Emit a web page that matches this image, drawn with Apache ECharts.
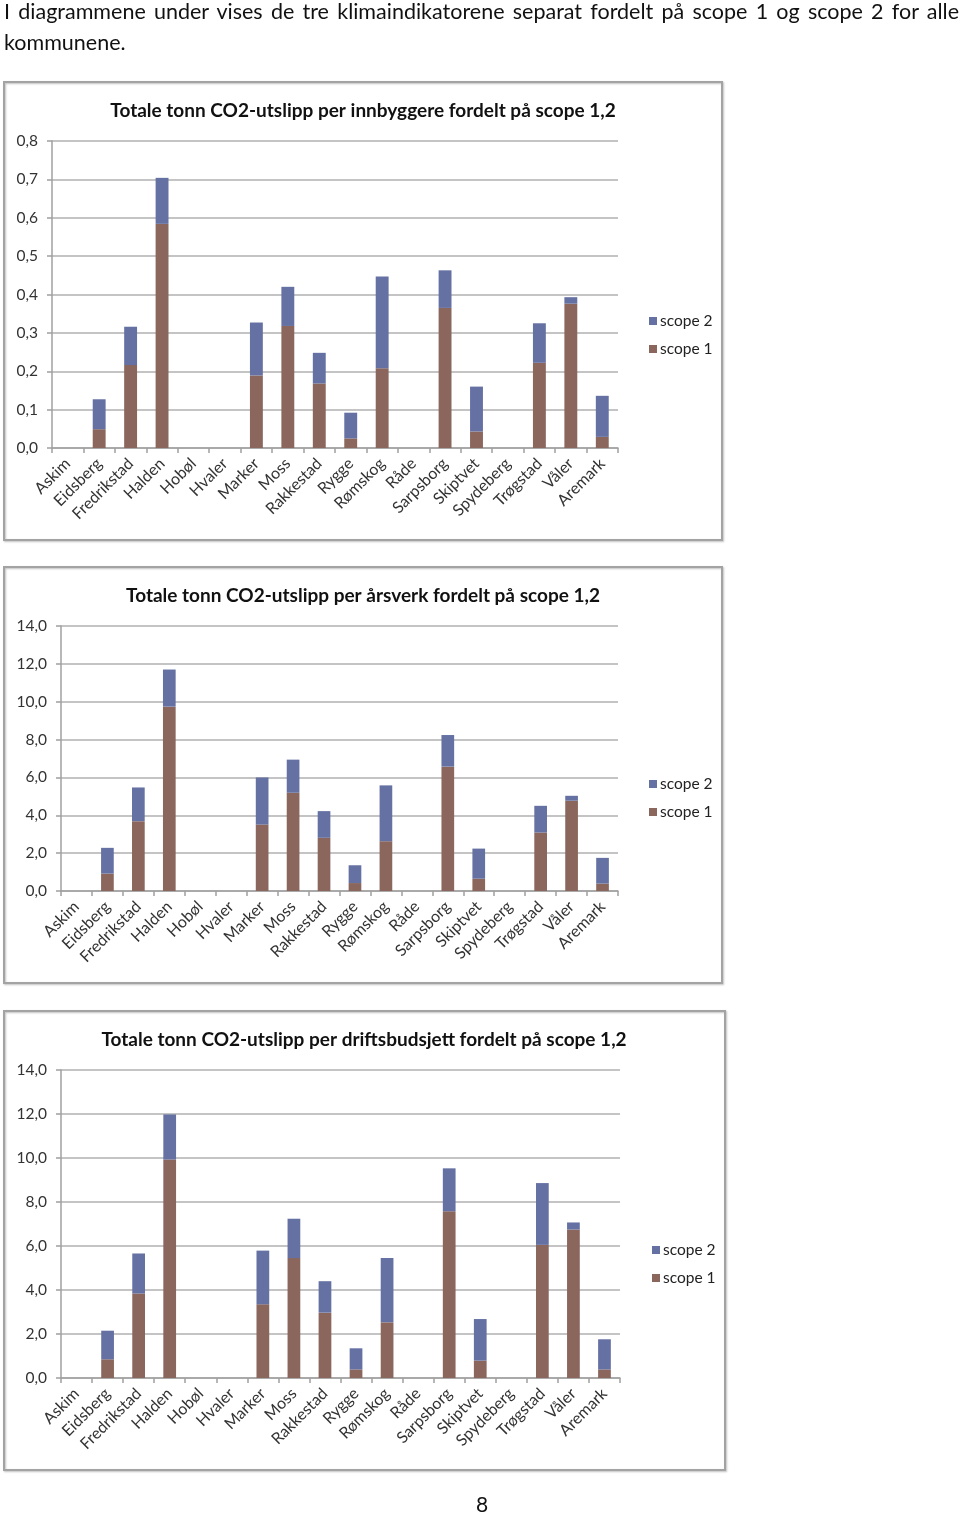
<!DOCTYPE html>
<html>
<head>
<meta charset="utf-8">
<script src="https://cdn.jsdelivr.net/npm/echarts@6/dist/echarts.min.js"></script>
<style>
  html, body { margin: 0; padding: 0; background: #fff; }
  body { width: 960px; height: 1515px; position: relative; overflow: hidden; font-family: Lato, "Open Sans", sans-serif; }
  #chart { position: absolute; left: 0; top: 0; width: 960px; height: 1515px; }
  .line { position: absolute; left: 4px; width: 955px; font-size: 21.5px; color: #111; line-height: 31px; white-space: nowrap; }
  #l1 { top: -4px; text-align: justify; text-align-last: justify; white-space: normal; }
  #l2 { top: 27px; }
  #pg { position: absolute; left: 476px; top: 1491px; font-size: 21px; color: #111; }
</style>
</head>
<body>
<div id="chart"></div>
<div class="line" id="l1">I diagrammene under vises de tre klimaindikatorene separat fordelt på scope 1 og scope 2 for alle</div>
<div class="line" id="l2">kommunene.</div>
<div id="pg">8</div>
<script>
const categories = ['Askim','Eidsberg','Fredrikstad','Halden','Hobøl','Hvaler','Marker','Moss','Rakkestad','Rygge','Rømskog','Råde','Sarpsborg','Skiptvet','Spydeberg','Trøgstad','Våler','Aremark'];

const titles = [
  'Totale tonn CO2-utslipp per innbyggere fordelt på scope 1,2',
  'Totale tonn CO2-utslipp per årsverk fordelt på scope 1,2',
  'Totale tonn CO2-utslipp per driftsbudsjett fordelt på scope 1,2'
];

// Chart 1: per innbyggere
const innbyggereScope1 = [0, 0.049, 0.216, 0.584, 0, 0, 0.189, 0.318, 0.168, 0.025, 0.208, 0, 0.365, 0.043, 0, 0.222, 0.376, 0.029];
const innbyggereScope2 = [0, 0.078, 0.100, 0.120, 0, 0, 0.138, 0.102, 0.080, 0.067, 0.239, 0, 0.098, 0.117, 0, 0.103, 0.017, 0.107];

// Chart 2: per årsverk
const arsverkScope1 = [0, 0.92, 3.69, 9.74, 0, 0, 3.51, 5.19, 2.81, 0.42, 2.63, 0, 6.57, 0.65, 0, 3.09, 4.77, 0.39];
const arsverkScope2 = [0, 1.36, 1.78, 1.96, 0, 0, 2.49, 1.75, 1.41, 0.94, 2.95, 0, 1.67, 1.59, 0, 1.41, 0.26, 1.36];

// Chart 3: per driftsbudsjett
const driftScope1 = [0, 0.85, 3.84, 9.93, 0, 0, 3.35, 5.45, 2.97, 0.39, 2.53, 0, 7.58, 0.79, 0, 6.05, 6.75, 0.39];
const driftScope2 = [0, 1.30, 1.82, 2.05, 0, 0, 2.44, 1.79, 1.43, 0.96, 2.92, 0, 1.95, 1.89, 0, 2.81, 0.32, 1.37];

const yMax = [0.8, 14, 14];
const yInterval = [0.1, 2, 2];

const COLOR1 = '#8a665d';
const COLOR2 = '#6571a3';
const FONT = 'Lato, "Open Sans", sans-serif';
const AXISCOL = '#a0a0a0';

const panels = [
  { box: [4, 82, 718, 458], grid: { left: 52, top: 141, width: 566, height: 307 }, titleY: 96, titleX: 358, legendX: 644, legendY: 308 },
  { box: [4, 567, 718, 416], grid: { left: 61, top: 626, width: 557, height: 265 }, titleY: 581, titleX: 358, legendX: 644, legendY: 771 },
  { box: [4, 1011, 721, 459], grid: { left: 61, top: 1070, width: 559, height: 308 }, titleY: 1025, titleX: 359, legendX: 647, legendY: 1237 }
];

const dataSets = [
  [innbyggereScope1, innbyggereScope2],
  [arsverkScope1, arsverkScope2],
  [driftScope1, driftScope2]
];

const chart = echarts.init(document.getElementById('chart'), null, { renderer: 'canvas' });

const option = {
  animation: false,
  textStyle: { fontFamily: FONT },
  title: panels.map((p, i) => ({
    text: titles[i],
    left: p.titleX,
    textAlign: 'center',
    top: p.titleY,
    textStyle: { fontFamily: FONT, fontSize: 19, fontWeight: 'bold', color: '#111' }
  })),
  legend: panels.map((p, i) => ({
    data: ['scope 2', 'scope 1'],
    orient: 'vertical',
    left: p.legendX,
    top: p.legendY,
    itemWidth: 8,
    itemHeight: 8,
    itemGap: 12,
    icon: 'rect',
    selectedMode: false,
    textStyle: { fontFamily: FONT, fontSize: 15.5, color: '#222', padding: [0, 0, 0, -2] }
  })),
  graphic: panels.map(p => ({
    type: 'rect',
    shape: { x: p.box[0], y: p.box[1], width: p.box[2], height: p.box[3] },
    style: { fill: 'transparent', stroke: '#a3a3a3', lineWidth: 2, shadowColor: 'rgba(0,0,0,0.25)', shadowBlur: 2, shadowOffsetX: 1, shadowOffsetY: 1 },
    z: -10,
    silent: true
  })),
  grid: panels.map(p => Object.assign({ containLabel: false }, p.grid)),
  xAxis: panels.map((p, i) => ({
    type: 'category',
    gridIndex: i,
    data: categories,
    boundaryGap: true,
    axisLine: { lineStyle: { color: AXISCOL, width: 1.5 } },
    axisTick: { show: true, length: 5, lineStyle: { color: AXISCOL, width: 1.5 }, alignWithLabel: false },
    axisLabel: { interval: 0, rotate: 45, fontFamily: FONT, fontSize: 16, color: '#333', margin: 13 }
  })),
  yAxis: panels.map((p, i) => ({
    type: 'value',
    gridIndex: i,
    min: 0,
    max: yMax[i],
    interval: yInterval[i],
    axisLine: { show: true, lineStyle: { color: AXISCOL, width: 1.5 } },
    axisTick: { show: true, length: 5, lineStyle: { color: AXISCOL, width: 1.5 } },
    splitLine: { show: true, lineStyle: { color: '#b0b0b0', width: 1.5 } },
    axisLabel: { fontFamily: FONT, fontSize: 15.5, color: '#333', margin: 14, formatter: v => v.toFixed(1).replace('.', ',') }
  })),
  series: []
};

dataSets.forEach((ds, i) => {
  option.series.push({
    name: 'scope 1', type: 'bar', stack: 's' + i, xAxisIndex: i, yAxisIndex: i,
    data: ds[0], barWidth: '41%', itemStyle: { color: COLOR1 }
  });
  option.series.push({
    name: 'scope 2', type: 'bar', stack: 's' + i, xAxisIndex: i, yAxisIndex: i,
    data: ds[1], barWidth: '41%', itemStyle: { color: COLOR2 }
  });
});

chart.setOption(option);
</script>
</body>
</html>
